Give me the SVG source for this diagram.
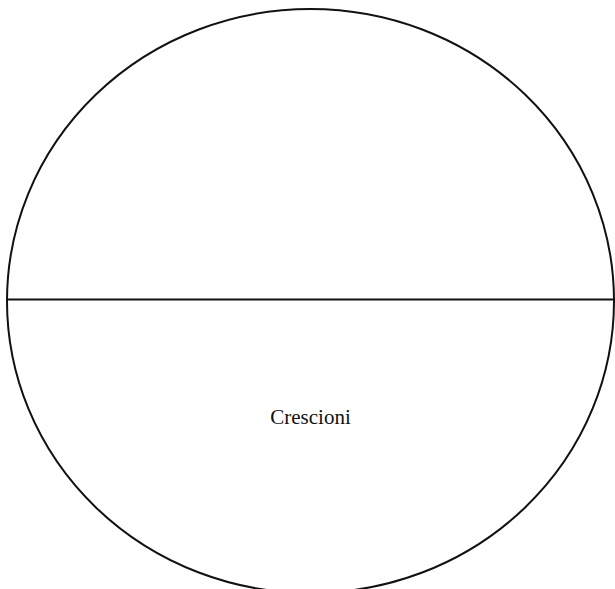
<svg xmlns="http://www.w3.org/2000/svg" width="615" height="589" viewBox="0 0 615 589">
<style>
.shape{fill:none;stroke:#111;stroke-width:2}
.lbl{font-family:"Liberation Serif","Times New Roman",serif;font-size:21px;fill:#111}
</style>
<rect width="615" height="589" fill="#fff"/>
<g id="circle">
<ellipse class="shape" cx="310.5" cy="301" rx="303.5" ry="292"/>
</g>
<g id="connectors">
<line class="shape" x1="7" y1="299.5" x2="615" y2="299.5"/>
</g>
<g id="label">
<text class="lbl" x="310.5" y="424" text-anchor="middle">Crescioni</text>
</g>
</svg>
